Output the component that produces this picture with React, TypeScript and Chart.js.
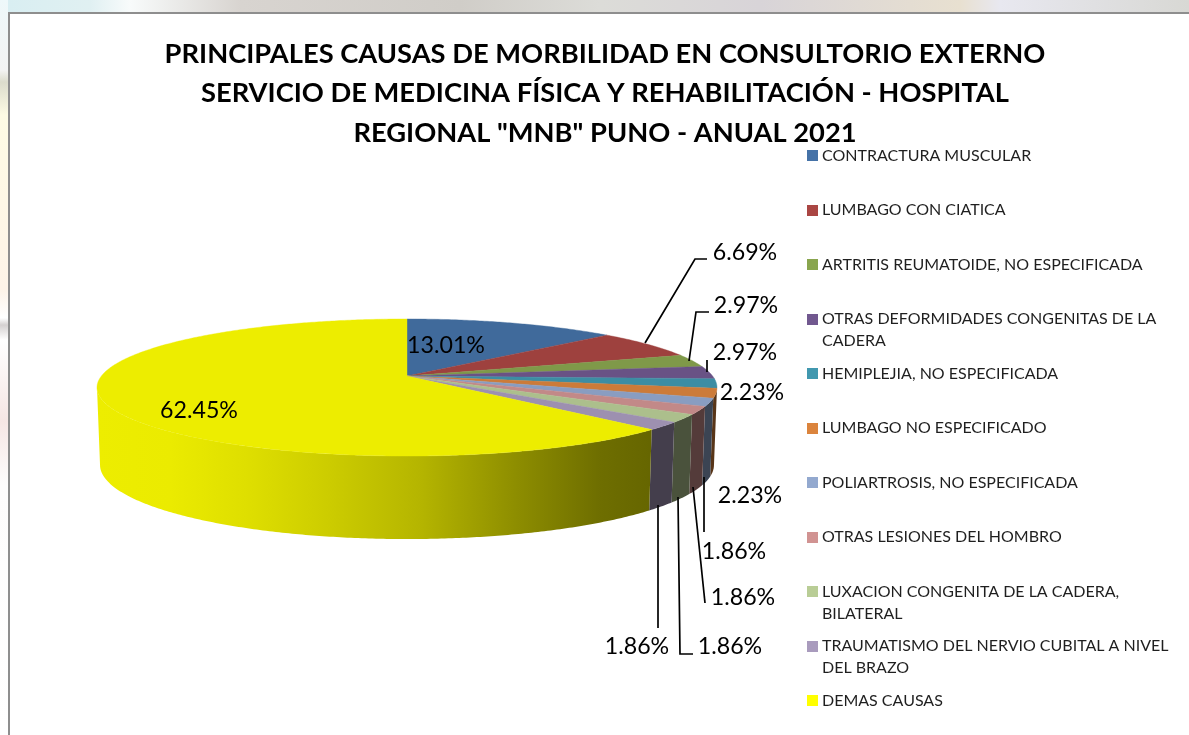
import React, { useEffect, useRef } from "react";
import { Chart, registerables } from "chart.js";

Chart.register(...registerables);

const titleLines = [
  "PRINCIPALES CAUSAS DE MORBILIDAD EN CONSULTORIO EXTERNO",
  "SERVICIO DE MEDICINA FÍSICA Y REHABILITACIÓN - HOSPITAL",
  'REGIONAL "MNB" PUNO - ANUAL 2021',
];
const categoryLines: string[][] = [
  ["CONTRACTURA MUSCULAR", ""],
  ["LUMBAGO CON CIATICA", ""],
  ["ARTRITIS REUMATOIDE, NO ESPECIFICADA", ""],
  ["OTRAS DEFORMIDADES CONGENITAS DE LA", "CADERA"],
  ["HEMIPLEJIA, NO ESPECIFICADA", ""],
  ["LUMBAGO NO ESPECIFICADO", ""],
  ["POLIARTROSIS, NO ESPECIFICADA", ""],
  ["OTRAS LESIONES DEL HOMBRO", ""],
  ["LUXACION CONGENITA DE LA CADERA,", "BILATERAL"],
  ["TRAUMATISMO DEL NERVIO CUBITAL A NIVEL", "DEL BRAZO"],
  ["DEMAS CAUSAS", ""],
];
const percentages = [13.01, 6.69, 2.97, 2.97, 2.23, 2.23, 1.86, 1.86, 1.86, 1.86, 62.45];
const sliceColors = [
  "#4572A7", "#AA4643", "#89A54E", "#71588F", "#4198AF", "#DB843D",
  "#93A9CF", "#D19392", "#B9CD96", "#A99BBD", "#FFFF00",
];

// Layout of the labels and their leader lines (page pixels), one per slice.
const labelCentres: [number, number][] = [
  [446, 345.5], [745, 253], [746, 306], [745, 353], [752, 392.5], [750, 496],
  [734, 552], [743, 598], [730, 647], [637, 647], [199, 411],
];
const leaderPaths: [number, number][][] = [
  [],
  [[645, 343], [695, 259], [707, 259]],
  [[689, 361], [696, 312], [709, 312]],
  [[707, 372], [707, 360]],
  [],
  [],
  [[704, 477], [704, 532]],
  [[693, 487], [705, 603]],
  [[678, 497], [680, 654], [693, 654]],
  [[658, 505], [658, 628]],
  [],
];

const FONT = "Lato, 'Noto Sans', sans-serif";

// Perspective discs (top and bottom faces) of the tilted cylinder.
const CX = 407;
const topDisc = { a: 305.6, b: 66.6, k: 0.168, y0: 376 };
const bottomDisc = { a: 302.6, b: 72.0, k: 0.168, y0: 452.5 };
const TOP_SHADE = 0.93;
const wallShade: [number, number][] = [
  [97, 0.93], [170, 0.92], [250, 0.87], [330, 0.8], [420, 0.71],
  [520, 0.55], [600, 0.43], [650, 0.4], [720, 0.4],
];

type Disc = typeof topDisc;
const project = (d: Disc, angle: number): [number, number] => {
  const w = 1 - d.k * Math.sin(angle);
  return [CX + (d.a * Math.cos(angle)) / w, d.y0 + (d.b * Math.sin(angle)) / w];
};
const shade = (hex: string, f: number) => {
  const n = parseInt(hex.slice(1), 16);
  const c = [(n >> 16) & 255, (n >> 8) & 255, n & 255].map((v) => Math.round(v * f));
  return `rgb(${c[0]},${c[1]},${c[2]})`;
};
const swatch = (color: string) => {
  const c = document.createElement("canvas");
  c.width = 11;
  c.height = 11;
  const g = c.getContext("2d") as CanvasRenderingContext2D;
  g.fillStyle = color;
  g.fillRect(0, 0, 11, 11);
  return c;
};

const pie3d = {
  id: "pie3d",
  afterLayout(chart: any) {
    const lg = chart.legend;
    lg.left = 800.5;
    lg.right = 1189;
    lg.top = 149.5;
    lg.bottom = 735;
  },
  beforeDatasetDraw(chart: any, args: any) {
    const { ctx } = chart;
    const arcs = args.meta.data;
    const horizon = Math.asin(topDisc.k);
    ctx.save();
    // side wall
    arcs.forEach((arc: any, i: number) => {
      const lo = Math.max(arc.startAngle, horizon);
      const hi = Math.min(arc.endAngle, Math.PI - horizon);
      if (hi <= lo) return;
      const grad = ctx.createLinearGradient(97, 0, 720, 0);
      wallShade.forEach(([x, f]) => grad.addColorStop((x - 97) / 623, shade(sliceColors[i], f)));
      const steps = Math.max(2, Math.ceil((hi - lo) / 0.01));
      ctx.beginPath();
      for (let s = 0; s <= steps; s++) {
        const [x, y] = project(topDisc, lo + ((hi - lo) * s) / steps);
        s === 0 ? ctx.moveTo(x, y) : ctx.lineTo(x, y);
      }
      for (let s = steps; s >= 0; s--) {
        const [x, y] = project(bottomDisc, lo + ((hi - lo) * s) / steps);
        ctx.lineTo(x, y);
      }
      ctx.closePath();
      ctx.fillStyle = grad;
      ctx.fill();
    });
    // top face
    arcs.forEach((arc: any, i: number) => {
      const steps = Math.max(2, Math.ceil((arc.endAngle - arc.startAngle) / 0.01));
      ctx.beginPath();
      ctx.moveTo(CX, topDisc.y0);
      for (let s = 0; s <= steps; s++) {
        const [x, y] = project(topDisc, arc.startAngle + ((arc.endAngle - arc.startAngle) * s) / steps);
        ctx.lineTo(x, y);
      }
      ctx.closePath();
      const col = shade(sliceColors[i], TOP_SHADE);
      ctx.fillStyle = col;
      ctx.strokeStyle = col;
      ctx.lineWidth = 0.4;
      ctx.fill();
      ctx.stroke();
    });
    ctx.restore();
    return false;
  },
  afterDatasetsDraw(chart: any) {
    const { ctx } = chart;
    ctx.save();
    ctx.strokeStyle = "#000";
    ctx.lineWidth = 1.7;
    leaderPaths.forEach((path) => {
      if (!path.length) return;
      ctx.beginPath();
      path.forEach(([x, y], i) => (i ? ctx.lineTo(x, y) : ctx.moveTo(x, y)));
      ctx.stroke();
    });
    ctx.fillStyle = "#000";
    ctx.font = `23.2px ${FONT}`;
    ctx.textAlign = "center";
    ctx.textBaseline = "middle";
    percentages.forEach((p, i) => {
      ctx.fillText(`${p.toFixed(2)}%`, labelCentres[i][0], labelCentres[i][1]);
    });
    ctx.restore();
  },
};

export default function App() {
  const ref = useRef<HTMLCanvasElement>(null);
  useEffect(() => {
    const chart = new Chart(ref.current as HTMLCanvasElement, {
      type: "pie",
      data: {
        labels: categoryLines.map((l) => l.join(" ").trim()),
        datasets: [{ data: percentages, backgroundColor: sliceColors, borderWidth: 0 }],
      },
      options: {
        responsive: false,
        animation: false,
        devicePixelRatio: 1,
        layout: { padding: { left: 29, right: 8, top: 0, bottom: 0 } },
        plugins: {
          tooltip: { enabled: false },
          title: {
            display: true,
            text: titleLines,
            color: "#000",
            font: { family: FONT, size: 27.3, weight: "bold", lineHeight: "39.5px" as any },
            padding: { top: 34, bottom: 0 },
          },
          legend: {
            position: "right",
            labels: {
              color: "#1f1f1f",
              font: { family: FONT, size: 16, lineHeight: "22px" as any },
              usePointStyle: true,
              pointStyleWidth: 3,
              boxHeight: 11,
              padding: 10.5,
              generateLabels: (c: any) =>
                (Chart as any).overrides.pie.plugins.legend.labels.generateLabels(c).map((it: any, i: number) => ({
                  ...it,
                  text: categoryLines[i],
                  lineWidth: 0,
                  pointStyle: swatch(sliceColors[i]),
                })),
            },
          },
        },
      } as any,
      plugins: [pie3d],
    });
    return () => chart.destroy();
  }, []);
  return (
    <div
      style={{
        position: "fixed", left: 0, top: 0, width: 1189, height: 735, overflow: "hidden",
        background:
          "linear-gradient(90deg,#d8eef2 0,#e0f0f2 90px,#f8fbfb 130px,#d8d4d0 240px,#d0cdc8 460px,#dcdcd8 600px,#d8d4d8 760px,#e8e0d0 960px,#e8e8f0 1000px,#d8d8d4 1189px)",
      }}
    >
      <div
        style={{
          position: "absolute", left: 0, top: 0, width: 8, height: 735,
          background:
            "linear-gradient(180deg,#eef8fa 0,#f3f3f3 70px,#dcdccc 82px,#fdfbe4 115px,#fdf3e8 290px,#ffffff 318px,#d4d0d0 325px,#ffffff 340px,#f5e6e4 420px,#fdfcfc 485px,#ffffff 735px)",
        }}
      />
      <div
        style={{
          position: "absolute", left: 8, top: 12, width: 1300, height: 800,
          boxSizing: "border-box", background: "#fff", border: "2px solid #8e8e8e",
        }}
      />
      <canvas
        ref={ref}
        width={1189}
        height={735}
        style={{ position: "absolute", left: 0, top: 0, width: 1189, height: 735 }}
      />
    </div>
  );
}
